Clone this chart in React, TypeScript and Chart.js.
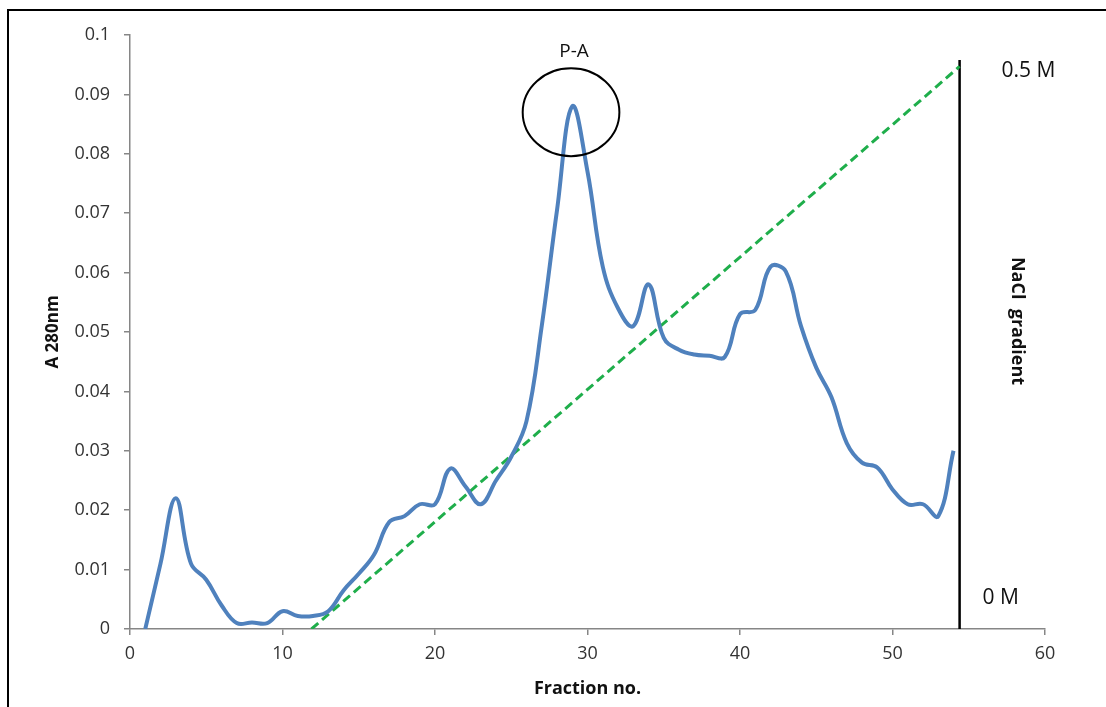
import React, { useEffect, useRef } from "react";
import { Chart, registerables } from "chart.js";

Chart.register(...registerables);

const fractions = [
  1, 2, 3, 4, 5, 6, 7, 8, 9, 10, 11, 12, 13, 14, 15, 16, 17, 18, 19, 20, 21, 22, 23, 24, 25, 26, 27,
  28, 29, 30, 31, 32, 33, 34, 35, 36, 37, 38, 39, 40, 41, 42, 43, 44, 45, 46, 47, 48, 49, 50, 51, 52,
  53, 54,
];
const absorbance = [
  0, 0.011, 0.022, 0.011, 0.0083, 0.004, 0.001, 0.0011, 0.001, 0.003, 0.0022, 0.0022, 0.003, 0.0065,
  0.0093, 0.0125, 0.018, 0.019, 0.021, 0.021, 0.027, 0.024, 0.021, 0.025, 0.029, 0.035, 0.051,
  0.0705, 0.088, 0.077, 0.061, 0.054, 0.051, 0.058, 0.049, 0.047, 0.0462, 0.046, 0.0458, 0.053,
  0.0537, 0.061, 0.0602, 0.051, 0.044, 0.039, 0.0313, 0.028, 0.0272, 0.0235, 0.021, 0.021, 0.019,
  0.03,
];
const gradientX = [11.9, 54.4];
const gradientY = [0, 0.0947];
const markerX = [54.4, 54.4];
const markerY = [0, 0.0958];
const xTicks = [0, 10, 20, 30, 40, 50, 60];
const yTicks = [0, 0.01, 0.02, 0.03, 0.04, 0.05, 0.06, 0.07, 0.08, 0.09, 0.1];
const peakCenter = [28.92, 0.087];
const peakRadius = [3.17, 0.0074];
const peakLabel = "P-A";
const topLabel = "0.5 M";
const bottomLabel = "0 M";
const sideLabel = "NaCl  gradient";
const xTitle = "Fraction no.";
const yTitle = "A 280nm";

const FONT = "'Open Sans', 'DejaVu Sans', sans-serif";

const overlay = {
  id: "overlay",
  afterDraw(chart: any) {
    const ctx = chart.ctx;
    const xs = chart.scales.x;
    const ys = chart.scales.y;
    const area = chart.chartArea;
    ctx.save();
    // frame
    ctx.strokeStyle = "#000";
    ctx.lineWidth = 2;
    ctx.beginPath();
    ctx.moveTo(1106, 10);
    ctx.lineTo(8, 10);
    ctx.lineTo(8, 707);
    ctx.stroke();

    // ellipse around peak
    const cx = xs.getPixelForValue(peakCenter[0]);
    const cy = ys.getPixelForValue(peakCenter[1]);
    const rx = Math.abs(xs.getPixelForValue(peakCenter[0] + peakRadius[0]) - cx);
    const ry = Math.abs(ys.getPixelForValue(peakCenter[1] + peakRadius[1]) - cy);
    ctx.lineWidth = 2;
    ctx.beginPath();
    ctx.ellipse(cx, cy, rx, ry, 0, 0, Math.PI * 2);
    ctx.stroke();

    ctx.fillStyle = "#111";
    ctx.textAlign = "center";
    ctx.textBaseline = "middle";
    ctx.font = `19px ${FONT}`;
    ctx.fillText(peakLabel, cx + 3, cy - ry - 17);

    const mx = xs.getPixelForValue(markerX[0]);
    ctx.font = `21px ${FONT}`;
    ctx.textAlign = "left";
    ctx.fillText(topLabel, mx + 42, ys.getPixelForValue(markerY[1]) + 11);
    ctx.fillText(bottomLabel, mx + 23, ys.getPixelForValue(0) - 31);

    // side label rotated clockwise
    ctx.save();
    ctx.translate(mx + 58, 321);
    ctx.rotate(Math.PI / 2);
    ctx.textAlign = "center";
    ctx.font = `bold 18px ${FONT}`;
    ctx.fillText(sideLabel, 0, 0);
    ctx.restore();

    // axis titles
    ctx.font = `bold 18px ${FONT}`;
    ctx.textAlign = "center";
    ctx.fillText(xTitle, (area.left + area.right) / 2, 689);
    ctx.font = `bold 17px ${FONT}`;
    ctx.save();
    ctx.translate(53, (area.top + area.bottom) / 2);
    ctx.rotate(-Math.PI / 2);
    ctx.fillText(yTitle, 0, 0);
    ctx.restore();
    ctx.restore();
  },
};

export default function App() {
  const ref = useRef<HTMLCanvasElement>(null);
  useEffect(() => {
    if (!ref.current) return;
    const chart = new Chart(ref.current, {
      type: "line",
      data: {
        datasets: [
          {
            data: fractions.map((f, i) => ({ x: f, y: absorbance[i] })),
            borderColor: "#4f81bd",
            borderWidth: 4,
            pointRadius: 0,
            tension: 0.4,
            fill: false,
          },
          {
            data: gradientX.map((f, i) => ({ x: f, y: gradientY[i] })),
            borderColor: "#1fae4b",
            borderWidth: 3,
            borderDash: [9, 5],
            pointRadius: 0,
            tension: 0,
            fill: false,
          },
          {
            data: markerX.map((f, i) => ({ x: f, y: markerY[i] })),
            borderColor: "#000",
            borderWidth: 2.5,
            pointRadius: 0,
            tension: 0,
            fill: false,
          },
        ],
      },
      options: {
        animation: false,
        responsive: false,
        maintainAspectRatio: false,
        layout: { padding: { left: 0, right: 61, top: 35, bottom: 0 } },
        plugins: { legend: { display: false }, tooltip: { enabled: false } },
        scales: {
          x: {
            type: "linear",
            min: 0,
            max: 60,
            afterFit: (s: any) => {
              s.height = 78;
            },
            afterBuildTicks: (s: any) => {
              s.ticks = xTicks.map((v) => ({ value: v }));
            },
            ticks: {
              color: "#333",
              font: { family: FONT, size: 18 },
              padding: 8,
              maxRotation: 0,
            },
            grid: { drawOnChartArea: false, drawTicks: true, tickLength: 6, color: "#868686", lineWidth: 1.5 },
            border: { color: "#868686", width: 1.5 },
          },
          y: {
            type: "linear",
            min: 0,
            max: 0.1,
            afterFit: (s: any) => {
              s.width = 130;
            },
            afterBuildTicks: (s: any) => {
              s.ticks = yTicks.map((v) => ({ value: v }));
            },
            ticks: {
              color: "#333",
              font: { family: FONT, size: 18 },
              padding: 14,
              callback: (v: any) => String(Number(Number(v).toFixed(2))),
            },
            grid: { drawOnChartArea: false, drawTicks: true, tickLength: 6, color: "#868686", lineWidth: 1.5 },
            border: { color: "#868686", width: 1.5 },
          },
        },
      },
      plugins: [overlay],
    });
    return () => chart.destroy();
  }, []);
  return (
    <div style={{ position: "fixed", left: 0, top: 0, width: 1106, height: 707, background: "#fff" }}>
      <canvas ref={ref} width={1106} height={707} style={{ display: "block" }} />
    </div>
  );
}
